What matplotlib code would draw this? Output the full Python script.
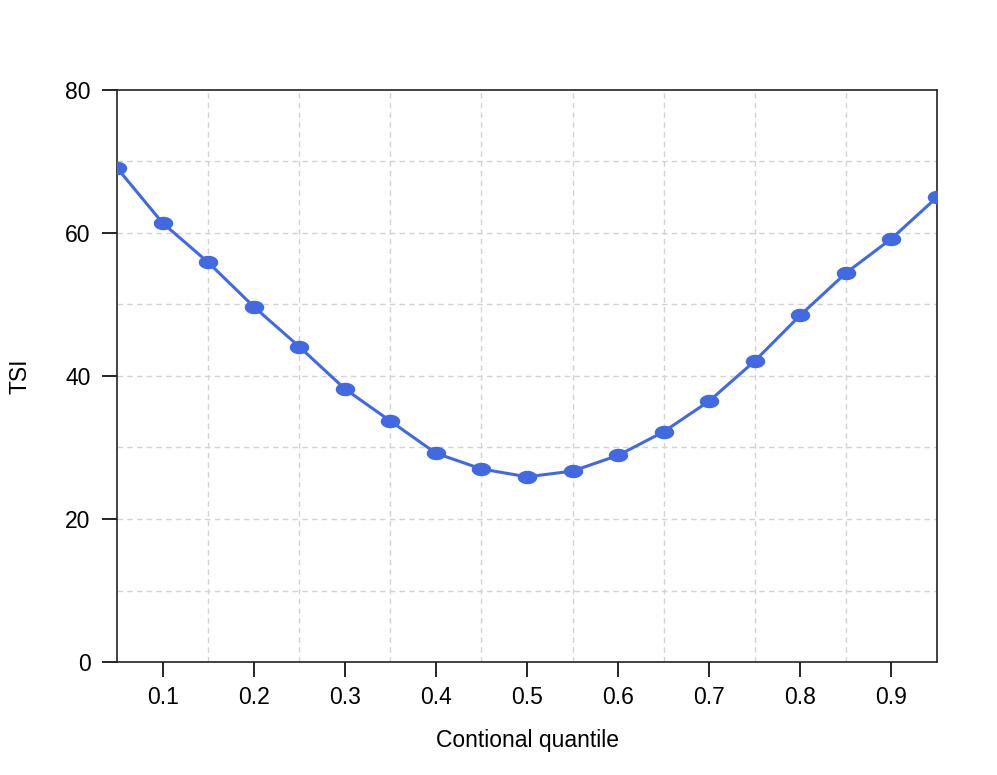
import matplotlib

matplotlib.use("Agg")
import matplotlib.pyplot as plt
import numpy as np
from matplotlib.path import Path

# conditional quantiles and TSI values
quantiles = [0.05, 0.10, 0.15, 0.20, 0.25, 0.30, 0.35, 0.40, 0.45, 0.50,
             0.55, 0.60, 0.65, 0.70, 0.75, 0.80, 0.85, 0.90, 0.95]
tsi = [69.1, 61.4, 55.9, 49.7, 44.1, 38.2, 33.7, 29.2, 27.0, 25.9,
       26.7, 28.9, 32.2, 36.5, 42.1, 48.5, 54.4, 59.2, 65.0]

x_ticks = [0.1, 0.2, 0.3, 0.4, 0.5, 0.6, 0.7, 0.8, 0.9]
y_ticks = [0, 20, 40, 60, 80]
x_grid = [0.15, 0.25, 0.35, 0.45, 0.55, 0.65, 0.75, 0.85]
y_grid = [10, 20, 30, 40, 50, 60, 70]

BLUE = "#4169E1"
FS = 16.5
plt.rcParams["font.family"] = ["Liberation Sans", "DejaVu Sans"]

# wide ellipse marker, like the stretched R points
t = np.linspace(0, 2 * np.pi, 60)
ellipse = Path(np.column_stack([1.5 * np.cos(t), np.sin(t)]), closed=True)

fig = plt.figure(figsize=(9.97, 7.75), dpi=100)
ax = fig.add_axes([0.1174, 0.1458, 0.8224, 0.7381])

for gx in x_grid:
    ax.axvline(gx, color="#d3d3d3", lw=1.0, ls=(0, (4, 3)), zorder=0)
for gy in y_grid:
    ax.axhline(gy, color="#d3d3d3", lw=1.0, ls=(0, (4, 3)), zorder=0)

ax.plot(quantiles, tsi, color=BLUE, lw=2.2, marker=ellipse, ms=13,
        mfc=BLUE, mec=BLUE, zorder=3)

ax.set_xlim(0.05, 0.95)
ax.set_ylim(0, 80)
ax.set_xticks(x_ticks)
ax.set_xticklabels([f"{v:.1f}" for v in x_ticks])
ax.set_yticks(y_ticks)
ax.tick_params(direction="out", length=11, width=1.2, labelsize=FS,
               colors="black")
ax.tick_params(axis="x", pad=6)
ax.tick_params(axis="y", pad=8)
for s in ax.spines.values():
    s.set_linewidth(1.2)
    s.set_color("#222222")

ax.set_xlabel("Contional quantile", fontsize=FS, labelpad=15)
ax.set_ylabel("TSI", fontsize=FS, labelpad=24)

fig.savefig("out.png", dpi=100)
